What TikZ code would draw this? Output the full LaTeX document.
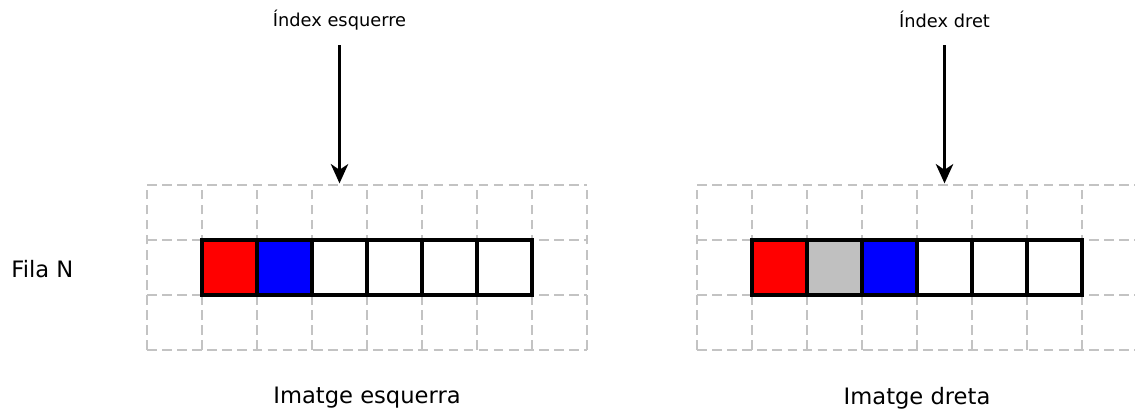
\documentclass[tikz,border=0pt]{standalone}
\usepackage{fontspec}
\setmainfont{DejaVu Sans}
\usetikzlibrary{arrows.meta, math}
\definecolor{gridgray}{RGB}{195,195,195}
\definecolor{pixgray}{RGB}{192,192,192}

\tikzset{
  gridline/.style={draw=gridgray, line width=1.4pt, dash pattern=on 5pt off 2.8pt},
  pixel/.style={draw=black, line width=1.7pt},
  indexarrow/.style={-{Stealth[length=10pt,width=9pt,inset=3pt]}, line width=1.4pt},
  smalllabel/.style={font=\fontsize{9.2}{11}\selectfont},
  biglabel/.style={font=\fontsize{11.7}{14}\selectfont}
}

\begin{document}
\begin{tikzpicture}
\tikzmath{
\W=8; \H=3;
}
\useasboundingbox (0,0) rectangle (20.636,-7.527);

% left image
\begin{scope}[shift={(2.673,-6.364)}]
\draw[gridline] (0,0) grid (\W,\H);
\foreach \c [count=\i] in {red,blue,white,white,white,white}
  \draw[pixel, fill=\c] (\i,1) rectangle +(1,1);
\coordinate (tipL) at (3.5,3.03);
\node[biglabel] (imgL) at (4,-0.87) {Imatge esquerra};
\end{scope}

% right image
\begin{scope}[shift={(12.673,-6.364)}]
\draw[gridline] (0,0) grid (\W,\H);
\foreach \c [count=\i] in {red,pixgray,blue,white,white,white}
  \draw[pixel, fill=\c] (\i,1) rectangle +(1,1);
\coordinate (tipR) at (4.5,3.03);
\node[biglabel] (imgR) at (4,-0.87) {Imatge dreta};
\end{scope}

\node[biglabel] (fila) at (0.77,-4.89) {Fila N};

\node[smalllabel] (idxL) at (6.173,-0.36) {Índex esquerre};
\node[smalllabel] (idxR) at (17.173,-0.36) {Índex dret};
\coordinate (startL) at (6.173,-0.82);
\coordinate (startR) at (17.173,-0.82);

\draw[indexarrow] (startL) -- (tipL);
\draw[indexarrow] (startR) -- (tipR);
\end{tikzpicture}
\end{document}
